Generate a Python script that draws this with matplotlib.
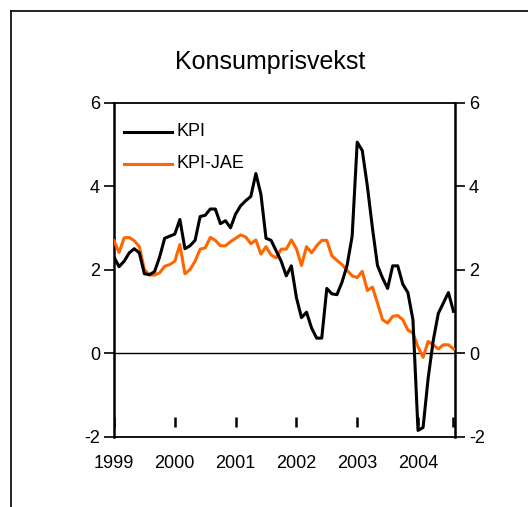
import matplotlib
matplotlib.use("Agg")
import matplotlib.pyplot as plt
from matplotlib.lines import Line2D

plt.rcParams['font.family'] = ['Liberation Sans', 'DejaVu Sans']

title = "Konsumprisvekst"
years = ["1999", "2000", "2001", "2002", "2003", "2004"]
yticks = [-2, 0, 2, 4, 6]

kpi = [2.3, 2.07, 2.2, 2.4, 2.5, 2.4, 1.9, 1.88, 1.95, 2.3, 2.75, 2.8,
       2.85, 3.2, 2.5, 2.57, 2.7, 3.27, 3.3, 3.45, 3.45, 3.1, 3.17, 3.0,
       3.33, 3.53, 3.65, 3.75, 4.3, 3.8, 2.75, 2.7, 2.45, 2.2, 1.85, 2.09,
       1.33, 0.85, 0.98, 0.6, 0.36, 0.36, 1.55, 1.42, 1.40, 1.7, 2.1, 2.8,
       5.05, 4.85, 4.0, 3.0, 2.1, 1.8, 1.55, 2.09, 2.09, 1.65, 1.45, 0.8,
       -1.85, -1.78, -0.6, 0.3, 0.95, 1.2, 1.45, 1.0]
kpi_jae = [2.69, 2.41, 2.76, 2.77, 2.69, 2.55, 2.0, 1.87, 1.87, 1.92, 2.08, 2.12,
           2.2, 2.6, 1.9, 2.0, 2.2, 2.49, 2.52, 2.77, 2.7, 2.57, 2.57, 2.67,
           2.75, 2.83, 2.78, 2.62, 2.71, 2.37, 2.55, 2.35, 2.28, 2.49, 2.49, 2.71,
           2.5, 2.1, 2.55, 2.4, 2.57, 2.7, 2.7, 2.33, 2.22, 2.12, 1.98, 1.85,
           1.81, 1.96, 1.5, 1.58, 1.2, 0.8, 0.72, 0.88, 0.9, 0.8, 0.55, 0.48,
           0.15, -0.1, 0.28, 0.2, 0.1, 0.2, 0.2, 0.1]

W, H = 528, 507
fig = plt.figure(figsize=(W / 100, H / 100), dpi=100)

# outer frame (left and top visible)
fig.add_artist(Line2D([11 / W, 11 / W], [0, 1 - 11 / H], color='black', lw=1.2))
fig.add_artist(Line2D([11 / W, 1], [1 - 11 / H, 1 - 11 / H], color='black', lw=1.2))

left, right, top, bottom = 114, 455, 102.5, 436.7
ax = fig.add_axes([left / W, 1 - bottom / H, (right - left) / W, (bottom - top) / H])

x = list(range(len(kpi)))
h_jae, = ax.plot(x, kpi_jae, color='#FF6600', lw=2.2, label='KPI-JAE', zorder=3)
h_kpi, = ax.plot(x, kpi, color='black', lw=2.2, label='KPI', zorder=4)
ax.axhline(0, color='black', lw=1.0, zorder=2)

xmax = 67.3
ax.set_xlim(0, xmax)
ax.set_ylim(-2, 6)

for s in ['left', 'right']:
    ax.spines[s].set_linewidth(1.8)
for s in ['top', 'bottom']:
    ax.spines[s].set_linewidth(1.3)

ax.set_yticks(yticks)
ax.set_yticklabels([str(v) for v in yticks])
ax.tick_params(axis='y', which='both', direction='out', length=7, width=1.2,
               labelsize=13, left=True, right=True, labelleft=True, labelright=True, pad=3)

# x axis: year labels under positions, tick marks floating above the bottom
xt = [12 * i for i in range(len(years))]
ax.set_xticks(xt)
ax.set_xticklabels(years)
ax.tick_params(axis='x', length=0, labelsize=13, pad=13)
ax.vlines(xt + [xmax - 0.3], -1.77, -1.53, color='black', lw=1.8, zorder=5)

# legend
fig.add_artist(Line2D([124 / W, 172 / W], [1 - 132 / H] * 2, color='black', lw=2.2))
fig.add_artist(Line2D([124 / W, 172 / W], [1 - 164 / H] * 2, color='#FF6600', lw=2.2))
fig.text(176 / W, 1 - 132 / H, h_kpi.get_label(), ha='left', va='center', fontsize=13)
fig.text(176 / W, 1 - 164 / H, h_jae.get_label(), ha='left', va='center', fontsize=13)

fig.text(270 / W, 1 - 62 / H, title, ha='center', va='center', fontsize=18)

fig.savefig('out.png', dpi=100)
